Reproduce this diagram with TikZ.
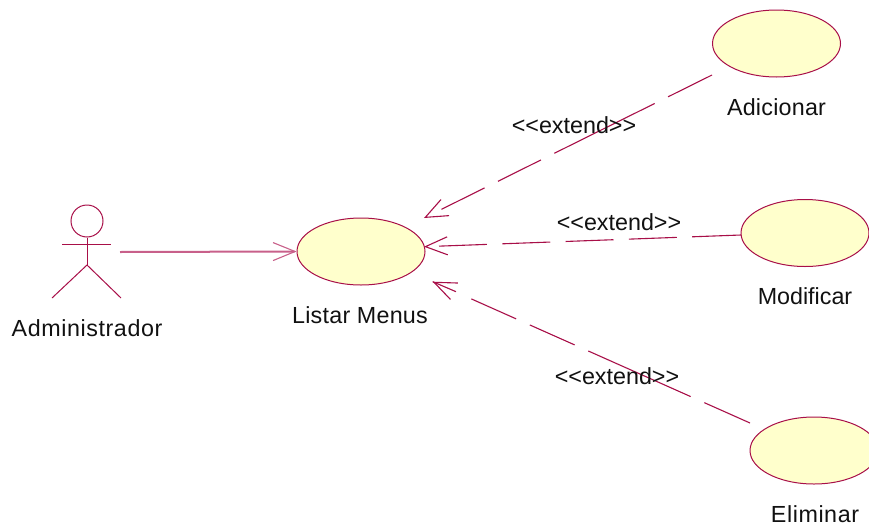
\documentclass[tikz,border=0pt]{standalone}
\usepackage{fontspec}
\setmainfont{Liberation Sans}
\usetikzlibrary{shapes.geometric,arrows.meta}
\definecolor{rose}{HTML}{A80F48}
\definecolor{rosepale}{HTML}{C8608A}
\definecolor{usefill}{HTML}{FFFFCC}
\definecolor{ink}{HTML}{111111}
\tikzset{
  usecase/.style={ellipse,draw=rose,fill=usefill,line width=1pt,minimum width=128pt,minimum height=67pt,inner sep=0pt},
  lbl/.style={anchor=base,inner sep=0pt,text=ink,font=\fontsize{23.3pt}{26pt}\selectfont},
  limb/.style={draw=rose,line width=1pt},
  barb/.style={-{Straight Barb[length=22pt,width=18pt,line width=1.1pt]}},
  assoc/.style={draw=rosepale,line width=2pt,barb},
  dep/.style={draw=rose,line width=1.1pt,barb},
  depA/.style={dep,dash pattern=on 49pt off 15pt on 112pt off 15pt on 48pt off 15pt on 48pt off 40pt},
  depB/.style={dep,dash pattern=on 49pt off 15.3pt on 48pt off 15.3pt on 48pt off 15.3pt on 48pt off 15.3pt on 48pt off 40pt},
  depC/.style={dep,dash pattern=on 50pt off 15pt on 112pt off 15pt on 49pt off 15pt on 49pt off 40pt}
}
\begin{document}
\begin{tikzpicture}[x=1pt,y=-1pt]
\useasboundingbox (0,0) rectangle (869,530);
\clip (0,0) rectangle (869,530);
% actor
\node[circle,draw=rose,line width=1pt,minimum size=32pt,inner sep=0pt] (head) at (87,221) {};
\coordinate (hip) at (87,265);
\coordinate (armL) at (62,244);
\coordinate (armR) at (111,244);
\coordinate (footL) at (52,298);
\coordinate (footR) at (121,298);
\path[limb] (head.south) -- (hip);
\path[limb] (armL) -- (armR);
\path[limb] (footL) -- (hip) -- (footR);
\coordinate (actorHand) at (120,252);
% use cases
\node[usecase] (list) at (361,251.5) {};
\node[usecase] (adic) at (776.5,43.5) {};
\node[usecase] (modi) at (805,233) {};
\node[usecase] (elim) at (814,450.5) {};
% labels
\node[lbl] (tadmin) at (87,336) {\addfontfeature{LetterSpace=2.5}Administrador};
\node[lbl] (tlist) at (360,323) {\addfontfeature{LetterSpace=1}Listar Menus};
\node[lbl] (tadic) at (776.5,115) {\addfontfeature{LetterSpace=1}Adicionar};
\node[lbl] (tmodi) at (805,304) {Modificar};
\node[lbl] (telim) at (815,522) {\addfontfeature{LetterSpace=2.4}Eliminar};
% connectors
\draw[assoc] (actorHand) -- (list.west);
\draw[depA] ([shift={(-64.5,31.5)}]adic.center) -- ([shift={(63,-33.5)}]list.center);
\draw[depB] ([shift={(-64,2)}]modi.center) -- ([shift={(63,-4.8)}]list.center);
\draw[depC] ([shift={(-64,-27.5)}]elim.center) -- ([shift={(71.7,30.2)}]list.center);
\draw[draw=rose,line width=1.1pt] ([shift={(95,40.2)}]list.center) -- ([shift={(71.7,30.2)}]list.center);
\node[lbl] (ext1) at (574,133) {<{}<extend>{}>};
\node[lbl] (ext2) at (619,230) {<{}<extend>{}>};
\node[lbl] (ext3) at (617,384) {<{}<extend>{}>};
\end{tikzpicture}
\end{document}
